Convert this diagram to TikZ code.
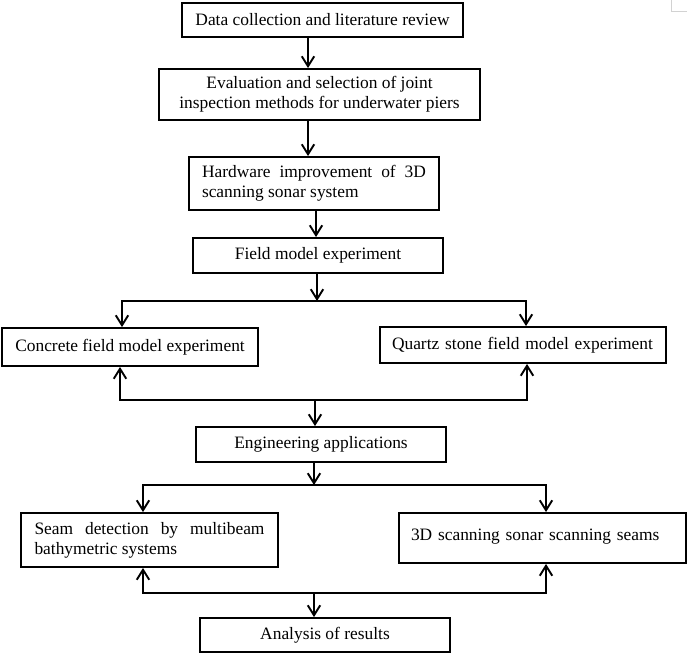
\documentclass[tikz,border=0pt]{standalone}
\usepackage{fontspec}
\setmainfont{Liberation Serif}
\usetikzlibrary{arrows.meta}
\begin{document}
\begin{tikzpicture}[x=1pt,y=-1pt,
  box/.style={draw, line width=1.9pt, inner sep=0pt, align=center,
    font=\fontsize{17.4}{20}\selectfont},
  arr/.style={line width=1.9pt, -{Straight Barb[length=10pt,width=12.5pt,line width=1.9pt]}},
  ln/.style={line width=1.9pt, line cap=rect}]
\useasboundingbox (0,0) rectangle (687,654);
\fill[white] (0,0) rectangle (687,654);
\draw[gray!35, line width=0.8pt] (671,0) -- (671,11) -- (687,11);

\node[box, minimum width=281, minimum height=34] (b1) at (322.5,20) {Data collection and literature review};
\node[box, minimum width=321, minimum height=51] (b2) at (319.5,94.5) {Evaluation and selection of joint\\inspection methods for underwater piers};
\node[box, minimum width=250, minimum height=53, text width=224pt, align=justify] (b3) at (314,183.5) {Hardware improvement of 3D\linebreak scanning sonar system};
\node[box, minimum width=250, minimum height=35] (b4) at (318,255.5) {Field model experiment};
\node[box, minimum width=256, minimum height=38] (b5) at (130,347) {Concrete field model experiment};
\node[box, minimum width=286, minimum height=36, text width=262pt, align=left] (b6) at (523,345) {Quartz stone field model experiment};
\node[box, minimum width=250, minimum height=35] (b7) at (321,444.5) {Engineering applications};
\node[box, minimum width=257, minimum height=54, text width=230pt, align=justify] (b8) at (149.5,540) {Seam detection by multibeam\linebreak bathymetric systems};
\node[box, minimum width=287, minimum height=50, text width=263pt, align=left] (b9) at (542.5,538) {\raisebox{6pt}{3D scanning sonar scanning seams}};
\node[box, minimum width=250, minimum height=34] (b10) at (325,635) {Analysis of results};

\coordinate (x1) at (308,0);
\coordinate (x2) at (308,0);
\coordinate (x3) at (316,0);
\draw[arr] (b1.south -| x1) -- (b2.north -| x1);
\draw[arr] (b2.south -| x2) -- (b3.north -| x2);
\draw[arr] (b3.south -| x3) -- (b4.north -| x3);

\coordinate (j1) at (317,301);
\coordinate (j1l) at (122,301);
\coordinate (j1r) at (526,301);
\draw[arr] (b4.south -| j1) -- (j1);
\draw[ln] (j1l) -- (j1r);
\draw[arr] (j1l) -- (j1l |- b5.north);
\draw[arr] (j1r) -- (j1r |- b6.north);

\coordinate (m1) at (315,400);
\coordinate (m1l) at (120,400);
\coordinate (m1r) at (527,400);
\draw[ln] (m1l) -- (m1r);
\draw[arr] (m1l) -- (m1l |- b5.south);
\draw[arr] (m1r) -- (m1r |- b6.south);
\draw[arr] (m1) -- (m1 |- b7.north);

\coordinate (j2) at (314,485);
\coordinate (j2l) at (143,485);
\coordinate (j2r) at (546,485);
\draw[arr] (b7.south -| j2) -- (j2);
\draw[ln] (j2l) -- (j2r);
\draw[arr] (j2l) -- (j2l |- b8.north);
\draw[arr] (j2r) -- (j2r |- b9.north);

\coordinate (m2) at (314,593);
\coordinate (m2l) at (143,593);
\coordinate (m2r) at (546,593);
\draw[ln] (m2l) -- (m2r);
\draw[arr] (m2l) -- (m2l |- b8.south);
\draw[arr] (m2r) -- (m2r |- b9.south);
\draw[arr] (m2) -- (m2 |- b10.north);
\end{tikzpicture}
\end{document}
